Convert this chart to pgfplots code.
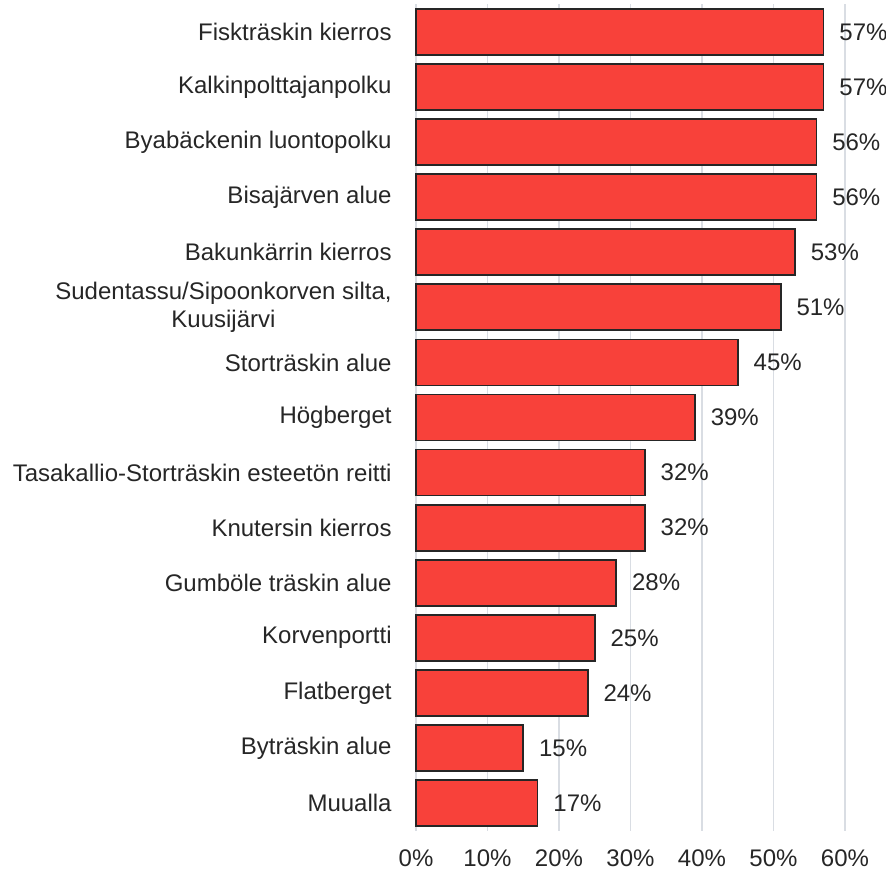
\documentclass[border=0pt]{standalone}
\usepackage{fontspec}
\setmainfont{Liberation Sans}
\usepackage{pgfplots}
\pgfplotsset{compat=1.18}
\definecolor{barred}{RGB}{248,65,58}
\definecolor{txt}{RGB}{38,38,38}
\definecolor{gridc}{RGB}{217,221,227}
\begin{document}
\fontsize{12}{13.8}\selectfont
\begin{tikzpicture}
\begin{axis}[
  xbar, scale only axis, width=214.5pt, height=413pt,
  xmin=0, xmax=60, ymin=-0.5, ymax=14.5, y dir=reverse,
  bar width=0.835,
  axis line style={draw=none},
  major tick length=0,
  xtick={0,10,...,60},
  xticklabel={\pgfmathprintnumber{\tick}\%},
  /pgf/number format/assume math mode=true,
  xmajorgrids, grid style={gridc, line width=0.6pt},
  ytick={0,...,14},
  yticklabels={Fiskträskin kierros, Kalkinpolttajanpolku, Byabäckenin luontopolku, Bisajärven alue, Bakunkärrin kierros, {Sudentassu/Sipoonkorven silta,\\Kuusijärvi}, Storträskin alue, Högberget, Tasakallio-Storträskin esteetön reitti, Knutersin kierros, Gumböle träskin alue, Korvenportti, Flatberget, Byträskin alue, Muualla},
  tick label style={font=\fontsize{12}{13.8}\selectfont, text=txt},
  yticklabel style={align=center, anchor=east, inner sep=0pt, xshift=-12pt},
  xticklabel style={anchor=north, inner sep=0pt, yshift=-9.5pt},
  nodes near coords={\pgfmathprintnumber{\pgfplotspointmeta}\%},
  every node near coord/.append style={font=\fontsize{12}{13.8}\selectfont, text=txt, anchor=west, inner sep=0pt, xshift=7.5pt},
  clip=false,
]
\addplot[fill=barred, draw=txt, line width=0.9pt] coordinates {
(57,0) (57,1) (56,2) (56,3) (53,4) (51,5) (45,6) (39,7) (32,8) (32,9) (28,10) (25,11) (24,12) (15,13) (17,14)
};
\end{axis}
\pgfresetboundingbox
\path[use as bounding box] ([xshift=-208pt,yshift=-20.25pt]current axis.south west) rectangle ([xshift=20.5pt,yshift=2.25pt]current axis.north east);
\end{tikzpicture}
\end{document}
